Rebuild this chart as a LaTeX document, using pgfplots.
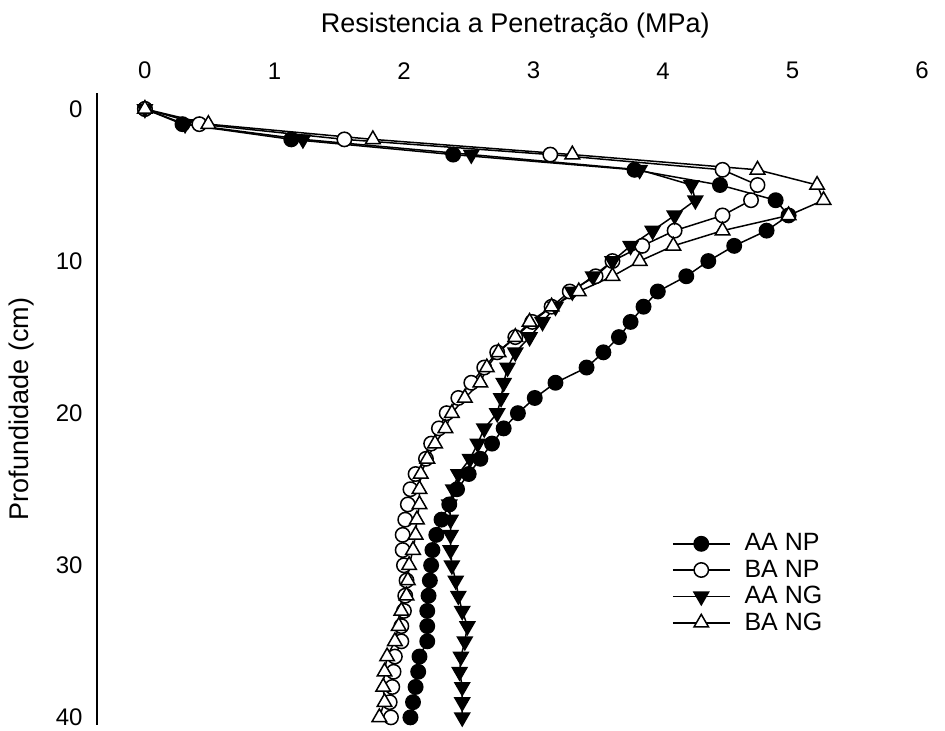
\documentclass[border=0pt]{standalone}
\usepackage{fontspec}
\setmainfont{Liberation Sans}
\usepackage{pgfplots}
\pgfplotsset{compat=1.18}
\usepackage{pgfplotstable}

% Penetration resistance (MPa) by depth (cm)
\pgfplotstableread{
depth AANP BANP AANG BANG
0  0.00 0.00 0.00 0.00
1  0.29 0.42 0.31 0.49
2  1.13 1.54 1.22 1.76
3  2.38 3.13 2.52 3.30
4  3.78 4.46 3.82 4.73
5  4.44 4.73 4.22 5.19
6  4.87 4.68 4.25 5.24
7  4.97 4.46 4.09 4.97
8  4.80 4.09 3.92 4.46
9  4.55 3.84 3.75 4.08
10 4.35 3.61 3.61 3.82
11 4.18 3.48 3.46 3.61
12 3.96 3.28 3.30 3.35
13 3.85 3.14 3.17 3.14
14 3.75 2.99 3.07 2.97
15 3.66 2.86 2.97 2.86
16 3.54 2.72 2.86 2.73
17 3.41 2.62 2.80 2.64
18 3.17 2.52 2.77 2.59
19 3.01 2.42 2.75 2.47
20 2.88 2.33 2.72 2.37
21 2.77 2.27 2.62 2.32
22 2.68 2.21 2.57 2.24
23 2.59 2.17 2.51 2.18
24 2.50 2.09 2.42 2.13
25 2.41 2.05 2.38 2.12
26 2.35 2.03 2.35 2.12
27 2.29 2.01 2.36 2.10
28 2.25 1.99 2.36 2.09
29 2.22 1.99 2.36 2.07
30 2.21 2.00 2.37 2.04
31 2.20 2.02 2.40 2.03
32 2.19 2.01 2.42 2.02
33 2.18 2.00 2.45 1.98
34 2.18 1.98 2.49 1.96
35 2.18 1.98 2.47 1.93
36 2.12 1.93 2.44 1.87
37 2.11 1.92 2.43 1.85
38 2.09 1.91 2.45 1.84
39 2.07 1.89 2.45 1.85
40 2.05 1.90 2.45 1.81
}\penetration

\begin{document}
\begin{tikzpicture}
\begin{axis}[
  name=ax,
  scale only axis,
  width=412.5pt, height=316pt,
  xmin=-0.37, xmax=6, ymin=-1.05, ymax=40.5,
  y dir=reverse,
  xtick={0,1,...,6}, ytick={0,10,...,40},
  xticklabel pos=upper,
  axis line style={draw=none},
  major tick length=0pt,
  tick style={draw=none},
  /pgf/number format/assume math mode=true,
  ticklabel style={font=\fontsize{12}{14}\selectfont, inner sep=0pt},
  xticklabel style={yshift=6.7pt},
  yticklabel style={xshift=-7pt},
  title={Resistencia a Penetração (MPa)},
  title style={at={(axis description cs:0.507,1.077)}, anchor=base,
               font=\fontsize{13.5}{16}\selectfont},
  ylabel={Profundidade (cm)},
  ylabel style={at={(axis description cs:-0.092,0.5)}, anchor=center,
                font=\fontsize{13.5}{16}\selectfont},
  legend style={draw=none, fill=none, inner sep=0pt, outer sep=0pt,
                at={(axis description cs:0.697,0.309)}, anchor=north west,
                font=\fontsize{12.5}{15}\selectfont, row sep=-1pt, column sep=5pt},
  legend cell align=left,
  legend image code/.code={
    \draw[mark repeat=2,mark phase=2] plot coordinates {(0pt,0pt) (14.25pt,0pt) (28.5pt,0pt)};
  },
  clip=false,
  every axis plot/.append style={black, line width=0.75pt},
]
\draw[line width=1pt] (rel axis cs:0,0) -- (rel axis cs:0,1);

\addplot[mark=*, mark size=3.6pt, mark options={fill=black, line width=0.75pt}]
  table[x=AANP, y=depth] {\penetration};
\addlegendentry{AA NP}
\addplot[mark=*, mark size=3.6pt, mark options={fill=white, line width=0.75pt}]
  table[x=BANP, y=depth] {\penetration};
\addlegendentry{BA NP}
\addplot[mark=triangle*, mark size=4.2pt, mark options={fill=black, rotate=180, line width=0.75pt}]
  table[x=AANG, y=depth] {\penetration};
\addlegendentry{AA NG}
\addplot[mark=triangle*, mark size=4.2pt, mark options={fill=white, line width=0.75pt}]
  table[x=BANG, y=depth] {\penetration};
\addlegendentry{BA NG}
\end{axis}
\pgfresetboundingbox
\path ([xshift=-48.5pt,yshift=46.5pt]ax.north west) rectangle ([xshift=11.5pt,yshift=-3pt]ax.south east);
\end{tikzpicture}
\end{document}
